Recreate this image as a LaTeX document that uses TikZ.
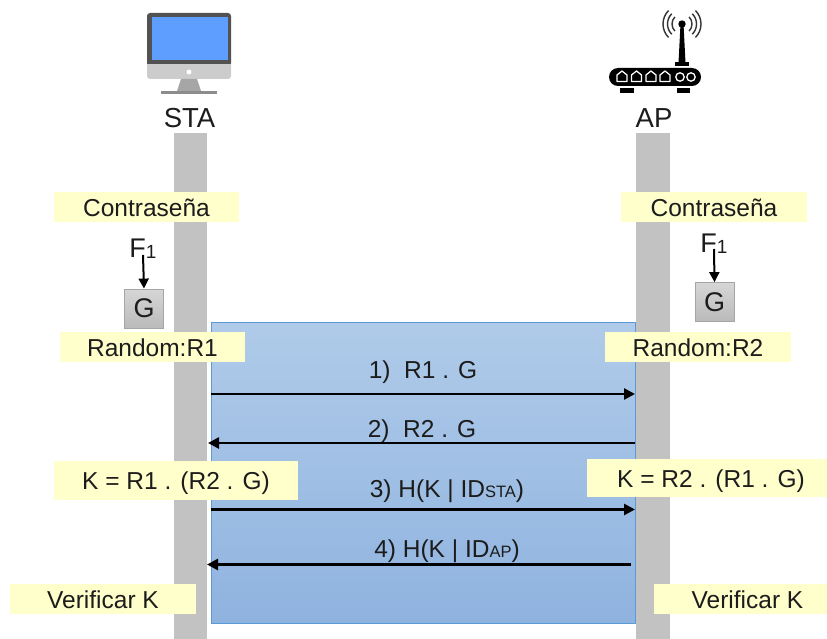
\documentclass[tikz,border=0pt]{standalone}
\usepackage{fontspec}
\setmainfont{Liberation Sans}
\usetikzlibrary{arrows.meta, positioning}
\definecolor{stline}{HTML}{C2C2C2}
\definecolor{stnote}{HTML}{FFFFCC}
\definecolor{stblue}{HTML}{5B9BD5}
\definecolor{sttop}{HTML}{B0CBE9}
\definecolor{stbot}{HTML}{8FB3DF}
\definecolor{stscreen}{HTML}{5E9EFF}
\definecolor{sttext}{HTML}{1C1C1C}
\tikzset{
  lifeline/.style={fill=stline, minimum width=33.5pt, minimum height=506pt, inner sep=0pt},
  note/.style={fill=stnote, text=sttext, inner sep=0pt, minimum height=30pt, text height=20pt, text depth=2pt, font=\fontsize{24.5}{28}\selectfont},
  msglabel/.style={text=sttext, inner sep=0pt, text height=20pt, text depth=2pt, font=\fontsize{24.5}{28}\selectfont},
  funclabel/.style={text=sttext, inner sep=0pt, anchor=base, font=\fontsize{27}{30}\selectfont},
  title/.style={text=sttext, inner sep=0pt, anchor=base, font=\fontsize{27.5}{30}\selectfont},
  gbox/.style={draw=black!35, thick, top color=black!16, bottom color=black!27, text=sttext, minimum size=39pt, inner sep=0pt, font=\fontsize{27}{30}\selectfont},
  msg/.style={-{Triangle[length=11pt,width=11pt]}, line width=2.6pt, black},
  gen/.style={-{Triangle[length=10pt,width=10pt]}, line width=2pt, black},
  port/.style={draw=white, line width=1.3pt, line join=round},
  wave/.style={black!80, line width=1.4pt}
}
\newcommand{\smallidx}[1]{{\fontsize{16.5}{16.5}\selectfont #1}}
\begin{document}
\begin{tikzpicture}[x=1pt, y=-1pt]
      \useasboundingbox (0,0) rectangle (827,639);
      % lineas de vida
      \node[lifeline] (lsta) at (190.5,386) {};
      \node[lifeline] (lap) at (653,386) {};
      % zona de mensajes
      \node[draw=stblue, thick, top color=sttop, bottom color=stbot, minimum width=424pt, minimum height=301pt, inner sep=0pt] (zona) at (423,472.5) {};
      % monitor STA
      \fill[black!68, rounded corners=3pt] (147,13) rectangle (231,66);
      \fill[black!20!white, rounded corners=3pt] (147,63) rectangle (231,79);
      \fill[black!20!white] (147,63) rectangle (231,70);
      \fill[black!68] (147,61) rectangle (231,64);
      \fill[stscreen] (152,17) rectangle (228,60);
      \fill[white] (189,72) circle (2.5);
      \fill[black!35] (181,79) -- (197,79) -- (201,91) -- (177,91) -- cycle;
      \fill[black!45] (161,91) rectangle (217,94.5);
      % router AP
      \coordinate (ant) at (682,24);
      \fill[black] (ant) circle (3.7);
      \fill[black] (680.5,24) -- (683.5,24) -- (685.5,63) -- (678.5,63) -- cycle;
      \fill[black] (675,62) rectangle (689,66);
      \foreach \rad in {10,14.5,19}{
        \draw[wave] ([shift={(135:\rad pt)}]ant) arc[start angle=135, end angle=225, radius=\rad pt];
        \draw[wave] ([shift={(-45:\rad pt)}]ant) arc[start angle=-45, end angle=45, radius=\rad pt];
      }
      \fill[black, rounded corners=9pt] (609,68) rectangle (701,86);
      \fill[black] (620,88) rectangle (634,93);
      \fill[black] (677,88) rectangle (690,93);
      \foreach \px in {622,636.5,651,665}{
        \draw[port] (\px-5,81.5) -- (\px-5,75) -- (\px,71) -- (\px+5,75) -- (\px+5,81.5) -- cycle;
      }
      \foreach \px in {680,691}{
        \draw[port] (\px,77) circle (4.2);
      }
      % titulos
      \node[title] (tsta) at (189.5,128) {STA};
      \node[title] (tap) at (654,128) {AP};
      % notas STA
      \node[note, minimum width=185pt] (psta) at (146.5,207.5) {Contraseña};
      \node[note, minimum width=185pt] (rsta) at (152.5,347) {Random:R1};
      \node[note, minimum width=244pt, minimum height=39pt] (ksta) at (176,480.5) {K = R1 . (R2 . G)};
      \node[note, minimum width=186pt] (vsta) at (103,599) {Verificar K};
      % notas AP
      \node[note, minimum width=186pt] (pap) at (714,207.5) {Contraseña};
      \node[note, minimum width=186pt] (rap) at (698,347) {Random:R2};
      \node[note, minimum width=240pt, minimum height=38pt] (kap) at (707,478) {\hspace*{8pt}K = R2 . (R1 . G)};
      \node[note, minimum width=173pt] (vap) at (740.5,599) {\hspace*{14pt}Verificar K};
      % funcion G
      \node[gbox] (gsta) at (144,308.5) {G};
      \node[gbox] (gap) at (714.5,302) {G};
      \node[funclabel] (fsta) at (143,258) {F\raisebox{-1pt}{\fontsize{19}{19}\selectfont 1}};
      \node[funclabel] (fap) at (714,252) {F\raisebox{-1pt}{\fontsize{19}{19}\selectfont 1}};
      \draw[gen] ([yshift=3pt]fsta.base) -- (gsta.north);
      \draw[gen] ([yshift=3pt]fap.base) -- (gap.north);
      % mensajes
      \coordinate (m1a) at (211,394);
      \coordinate (m1b) at (635,394);
      \coordinate (m2a) at (635,443);
      \coordinate (m2b) at (208,443);
      \coordinate (m3a) at (211,509.5);
      \coordinate (m3b) at (635,509.5);
      \coordinate (m4a) at (631,564.5);
      \coordinate (m4b) at (207,564.5);
      \draw[msg] (m1a) -- (m1b);
      \draw[msg] (m2a) -- (m2b);
      \draw[msg] (m3a) -- (m3b);
      \draw[msg] (m4a) -- (m4b);
      \node[msglabel] (l1) at (423,369) {1)\ \ R1 . G};
      \node[msglabel] (l2) at (422,428.5) {2)\ \ R2 . G};
      \node[msglabel] (l3) at (447,488) {3) H(K | ID\smallidx{STA})};
      \node[msglabel] (l4) at (447,548) {4) H(K | ID\smallidx{AP})};
    \end{tikzpicture}
\end{document}
